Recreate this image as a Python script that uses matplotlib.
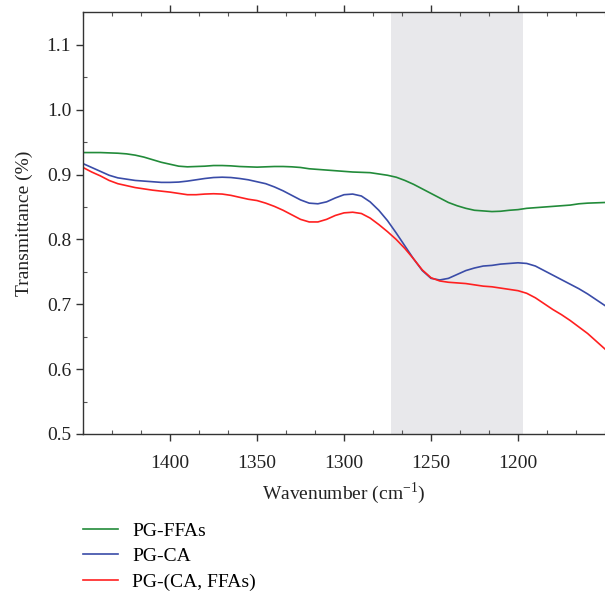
import numpy as np
import matplotlib
matplotlib.use('Agg')
import matplotlib.pyplot as plt
from matplotlib.ticker import FixedLocator

plt.rcParams['font.family'] = ['Liberation Serif', 'DejaVu Serif']
plt.rcParams['mathtext.fontset'] = 'custom'
plt.rcParams['mathtext.rm'] = 'Liberation Serif'

# Donnees (pas de 5 cm-1)
wavenumber = np.arange(1450, 1145, -5)

pg_ffas = [0.934, 0.934, 0.934, 0.9335, 0.933, 0.932, 0.930, 0.927, 0.923, 0.919,
           0.916, 0.913, 0.912, 0.9125, 0.913, 0.914, 0.914, 0.9135, 0.9125, 0.912,
           0.9115, 0.912, 0.9125, 0.9125, 0.912, 0.911, 0.909, 0.908, 0.907, 0.906,
           0.905, 0.904, 0.9035, 0.903, 0.901, 0.899, 0.896, 0.891, 0.885, 0.878,
           0.871, 0.864, 0.857, 0.852, 0.848, 0.845, 0.844, 0.843, 0.8435, 0.845,
           0.846, 0.848, 0.849, 0.850, 0.851, 0.852, 0.853, 0.855, 0.856, 0.8565,
           0.857]

pg_ca = [0.917, 0.911, 0.905, 0.899, 0.895, 0.893, 0.891, 0.890, 0.889, 0.888,
         0.888, 0.8885, 0.890, 0.892, 0.894, 0.8955, 0.896, 0.8955, 0.894, 0.892,
         0.889, 0.886, 0.881, 0.875, 0.868, 0.861, 0.856, 0.855, 0.858, 0.864,
         0.869, 0.870, 0.867, 0.858, 0.845, 0.829, 0.810, 0.790, 0.770, 0.752,
         0.740, 0.7375, 0.740, 0.746, 0.752, 0.756, 0.759, 0.760, 0.762, 0.763,
         0.764, 0.763, 0.759, 0.752, 0.745, 0.738, 0.731, 0.724, 0.716, 0.707,
         0.698]

pg_ca_ffas = [0.911, 0.904, 0.898, 0.891, 0.886, 0.883, 0.880, 0.878, 0.876, 0.8745,
              0.873, 0.871, 0.869, 0.869, 0.870, 0.8705, 0.870, 0.868, 0.865, 0.862,
              0.860, 0.856, 0.851, 0.845, 0.838, 0.831, 0.827, 0.827, 0.831, 0.837,
              0.841, 0.842, 0.840, 0.833, 0.823, 0.812, 0.800, 0.786, 0.770, 0.753,
              0.741, 0.736, 0.734, 0.733, 0.732, 0.730, 0.728, 0.727, 0.725, 0.723,
              0.721, 0.717, 0.710, 0.701, 0.692, 0.684, 0.675, 0.665, 0.655, 0.643,
              0.631]

labels = ['PG-FFAs', 'PG-CA', 'PG-(CA, FFAs)']
colors = ['#228b3a', '#3a4ca8', '#ff2020']
band = (1273, 1197)
xticks = [1400, 1350, 1300, 1250, 1200]
yticks = [0.5, 0.6, 0.7, 0.8, 0.9, 1.0, 1.1]

fig = plt.figure(figsize=(6.05, 5.92), dpi=100)
ax = fig.add_axes([0.1372, 0.2669, 0.8628, 0.712])

ax.axvspan(band[1], band[0], color='#e8e8eb', lw=0, zorder=0)
lines = []
for y, c, lab in zip([pg_ffas, pg_ca, pg_ca_ffas], colors, labels):
    l, = ax.plot(wavenumber, y, color=c, lw=1.2, label=lab,
                 solid_joinstyle='round', antialiased=True)
    lines.append(l)

ax.set_xlim(1450, 1150)
ax.set_ylim(0.5, 1.15)
ax.xaxis.set_major_locator(FixedLocator(xticks))
ax.xaxis.set_minor_locator(FixedLocator(np.arange(1450, 1149, -50 / 3)))
ax.yaxis.set_major_locator(FixedLocator(yticks))
ax.yaxis.set_minor_locator(FixedLocator(np.arange(0.55, 1.15, 0.1)))
ax.yaxis.set_major_formatter(plt.FormatStrFormatter('%.1f'))

ax.spines['right'].set_visible(False)
for s in ['left', 'bottom', 'top']:
    ax.spines[s].set_linewidth(1.0)
    ax.spines[s].set_color('#333333')

ax.tick_params(axis='both', which='major', direction='out', length=5, width=1,
               labelsize=14, colors='#333333', labelcolor='#222222')
ax.tick_params(axis='both', which='minor', direction='in', length=3, width=0.8,
               colors='#555555')
ax.tick_params(axis='x', which='both', top=True)
ax.tick_params(axis='x', which='major', pad=10)

ax.set_xlabel('Wavenumber (cm$^{-1}$)', fontsize=14, color='#222222', labelpad=6)
ax.set_ylabel('Transmittance (%)', fontsize=14, color='#222222', labelpad=10)

fig.legend(handles=lines, loc='upper left', bbox_to_anchor=(0.138, 0.118),
           frameon=False, fontsize=14, handlelength=1.75, handletextpad=0.75,
           labelspacing=0.4, borderaxespad=0, borderpad=0)

fig.savefig('out.png', dpi=100)
